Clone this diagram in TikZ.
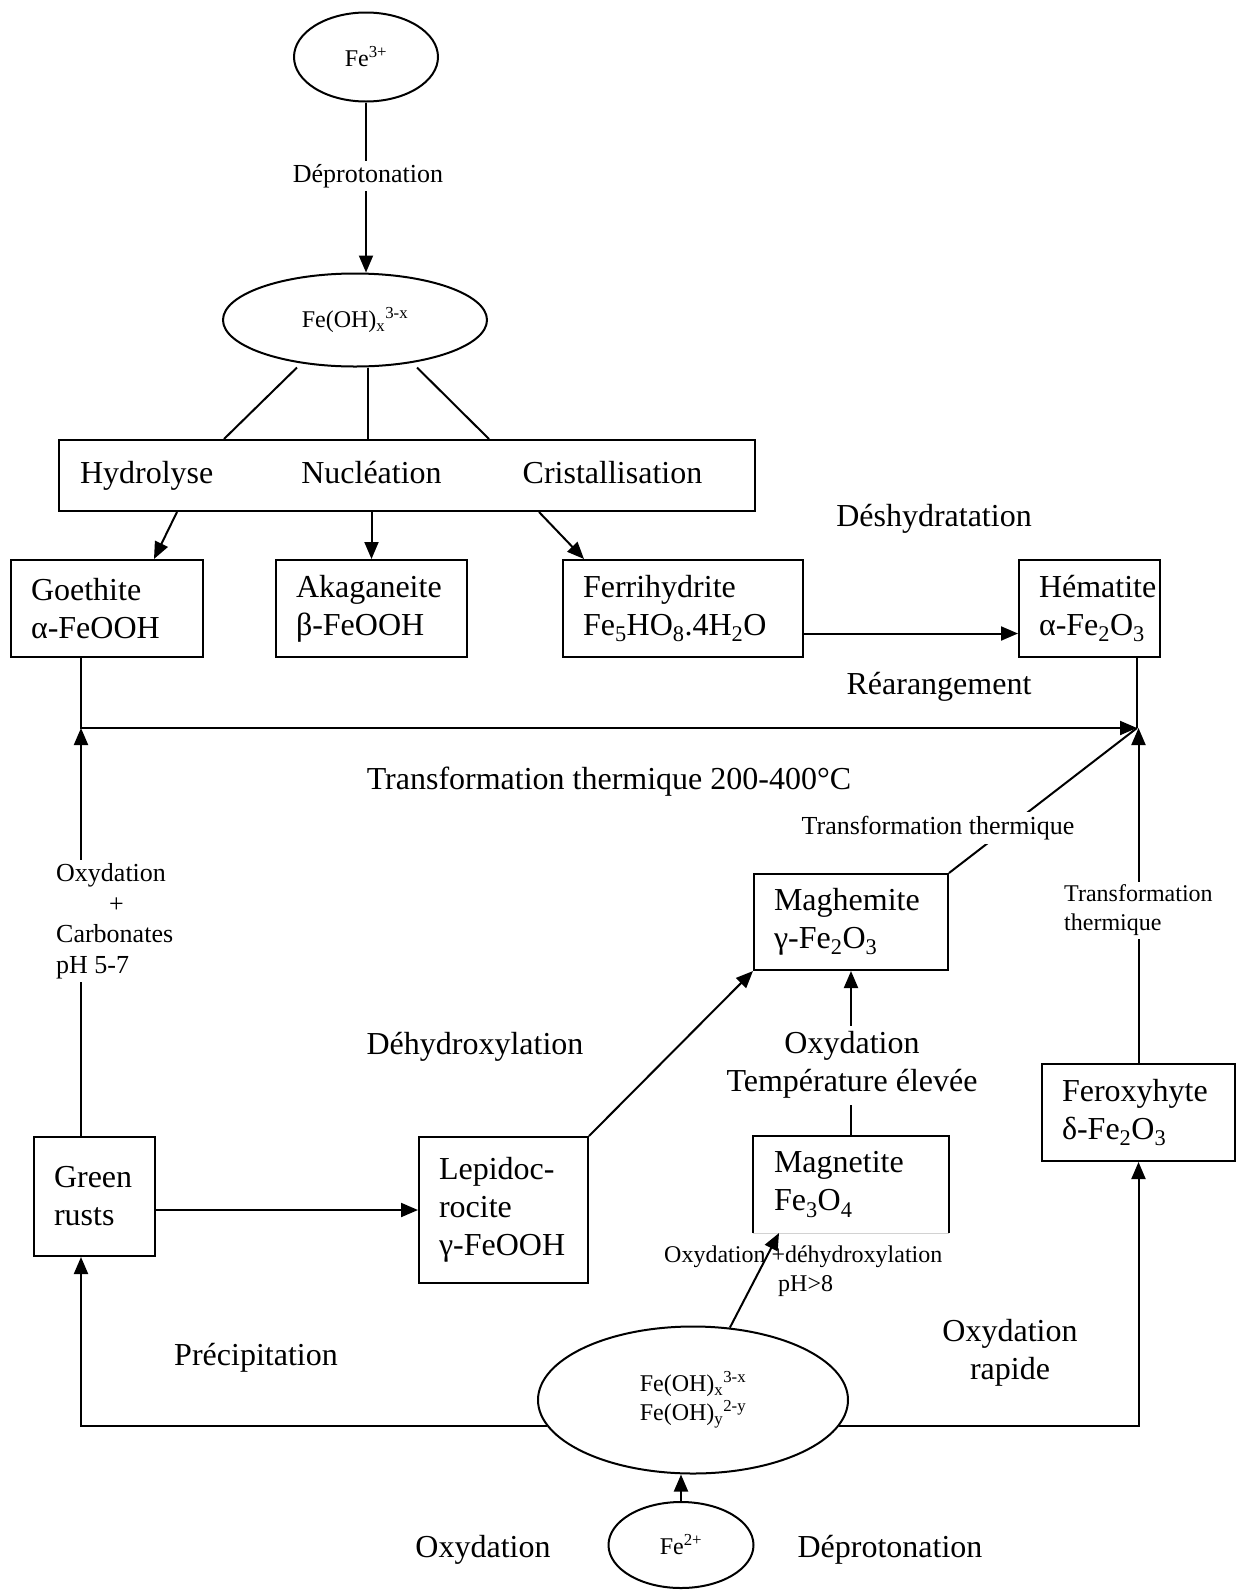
\documentclass[tikz,border=0pt]{standalone}
\usepackage{fontspec}
\setmainfont{Liberation Serif}
\usetikzlibrary{shapes.geometric,arrows.meta}
\newcommand\bigtxt{\fontsize{32pt}{38pt}\selectfont}
\newcommand\medtxt{\fontsize{26pt}{30.5pt}\selectfont}
\newcommand\smalltxt{\fontsize{24pt}{29pt}\selectfont}
\hyphenpenalty=10000
\exhyphenpenalty=10000
\begin{document}
\begin{tikzpicture}[x=1pt,y=-1pt,
   mineral/.style 2 args={draw,line width=2pt,anchor=north west,align=left,inner xsep=20pt,inner ysep=0pt,text width=#1,minimum height=#2,font=\bigtxt},
   stagebox/.style={draw,line width=2pt,anchor=north west,align=left,inner xsep=21pt,inner ysep=0pt,text width=654pt,minimum height=71pt,font=\bigtxt},
   oval/.style={ellipse,draw,line width=2pt,inner sep=0pt,font=\smalltxt},
   lbl/.style={align=center,font=\bigtxt},
   midlbl/.style={align=center,font=\medtxt},
   smlbl/.style={align=center,font=\smalltxt},
   ln/.style={line width=2pt},
   arr/.style={line width=2pt,-{Triangle[length=17pt,width=14pt]}}
  ]
  \fill[white] (0,0) rectangle (1239,1591);
  \useasboundingbox (0,0) rectangle (1239,1591);
  \node[oval, minimum width=144pt, minimum height=89pt] (fe3) at (366,57) {Fe\textsuperscript{3+}};
  \node[oval, minimum width=264pt, minimum height=93pt] (feoh) at (355,320) {Fe(OH)\textsubscript{x}\textsuperscript{3-x}};
  \node[stagebox] (stg) at (58,439) {Hydrolyse\hspace{88pt}Nucléation\hspace{81pt}Cristallisation};
  \node[mineral={152pt}{97pt}] (goe) at (10,559) {Goethite\\α-FeOOH};
  \node[mineral={151pt}{97pt}] (aka) at (275,559) {Akaganeite\\β-FeOOH};
  \node[mineral={200pt}{97pt}] (fhy) at (562,559) {Ferrihydrite\\Fe\textsubscript{5}HO\textsubscript{8}.4H\textsubscript{2}O};
  \node[mineral={101pt}{97pt}] (hem) at (1018,559) {\mbox{Hématite}\\α-Fe\textsubscript{2}O\textsubscript{3}};
  \node[mineral={154pt}{96pt}] (mgh) at (753,873) {Maghemite\\γ-Fe\textsubscript{2}O\textsubscript{3}};
  \node[mineral={153pt}{97pt}] (fer) at (1041,1063) {Feroxyhyte\\δ-Fe\textsubscript{2}O\textsubscript{3}};
  \node[mineral={81pt}{119pt}] (grn) at (33,1136) {Green\\rusts};
  \node[mineral={129pt}{146pt}] (lep) at (418,1136) {Lepidoc-\\rocite\\γ-FeOOH};
  \node[mineral={154pt}{95pt}, draw=none] (mgt) at (753,1136) {Magnetite\\Fe\textsubscript{3}O\textsubscript{4}};
  \node[oval, minimum width=310pt, minimum height=147pt, align=left] (ell) at (693,1400) {Fe(OH)\textsubscript{x}\textsuperscript{3-x}\\Fe(OH)\textsubscript{y}\textsuperscript{2-y}};
  \node[oval, minimum width=145pt, minimum height=86pt] (fe2) at (681,1545) {Fe\textsuperscript{2+}};
  \coordinate (jl) at (81,728);
  \coordinate (jr) at (1137,728);

  \draw[ln] (mgt.south west) -- (mgt.north west) -- (mgt.north east) -- (mgt.south east);
  \draw[gray!35, line width=0.8pt] (mgt.south west) -- (mgt.south east);

  \draw[arr] (fe3.south) -- (fe3.south |- feoh.north);
  \draw[ln] ([xshift=-58pt]feoh.south) -- ([xshift=166pt]stg.north west);
  \draw[ln] ([xshift=13pt]feoh.south) -- ([xshift=310pt]stg.north west);
  \draw[ln] ([xshift=62pt]feoh.south) -- ([xshift=431pt]stg.north west);
  \draw[arr] ([xshift=119pt]stg.south west) -- ([xshift=144pt]goe.north west);
  \draw[arr] (stg.south -| aka.north) -- (aka.north);
  \draw[arr] ([xshift=481pt]stg.south west) -- ([xshift=22pt]fhy.north west);
  \draw[arr] ([yshift=-25pt]fhy.east) -- ([yshift=-25pt]hem.west);
  \draw[arr] (goe.south -| jl) |- (jr);
  \draw[ln] (hem.south -| jr) -- (jr);
  \draw[arr] (grn.north -| jl) -- (jl);
  \draw[arr] (fer.north) -- (fer.north |- jr);
  \draw[ln] (mgh.north east) -- (jr);
  \draw[arr] (mgt.north) -- (mgh.south);
  \draw[arr] (lep.north east) -- (mgh.south west);
  \draw[arr] (grn.east |- lep.west) -- (lep.west);
  \draw[arr] (ell.190) -| (grn.south -| jl);
  \draw[arr] (ell.-10) -| (fer.south);
  \draw[arr] (ell.63) -- ([xshift=26pt]mgt.south west);
  \draw[arr] (fe2.north) -- (fe2.north |- ell.south);

  \node[midlbl, fill=white] (dept) at (368,176) {Déprotonation};
  \node[lbl] (desh) at (934,519) {Déshydratation};
  \node[lbl] (rear) at (939,687) {Réarangement};
  \node[lbl] (trth) at (609,782) {Transformation thermique 200-400°C};
  \node[midlbl, fill=white, inner sep=4pt] (trmd) at (938,828) {Transformation thermique};
  \node[midlbl, fill=white, align=left, anchor=west, inner sep=3pt] (oxca) at (53,921) {Oxydation\\\hspace*{53pt}+\\Carbonates\\pH 5-7};
  \node[smlbl, fill=white, align=left, anchor=west, inner sep=3pt] (trrt) at (1061,910) {Transformation\\thermique};
  \node[lbl] (dehx) at (475,1047) {Déhydroxylation};
  \node[lbl, fill=white, inner xsep=0pt, inner ysep=6pt] (oxte) at (852,1065) {Oxydation\\Température élevée};
  \node[smlbl, align=left, anchor=west, inner sep=0pt] (oxdh) at (664,1271) {Oxydation +déhydroxylation\\\hspace*{114pt}pH>8};
  \node[lbl] (prec) at (256,1358) {Précipitation};
  \node[lbl] (oxra) at (1010,1353) {Oxydation\\rapide};
  \node[lbl] (oxbt) at (483,1550) {Oxydation};
  \node[lbl] (depb) at (890,1550) {Déprotonation};
\end{tikzpicture}
\end{document}
